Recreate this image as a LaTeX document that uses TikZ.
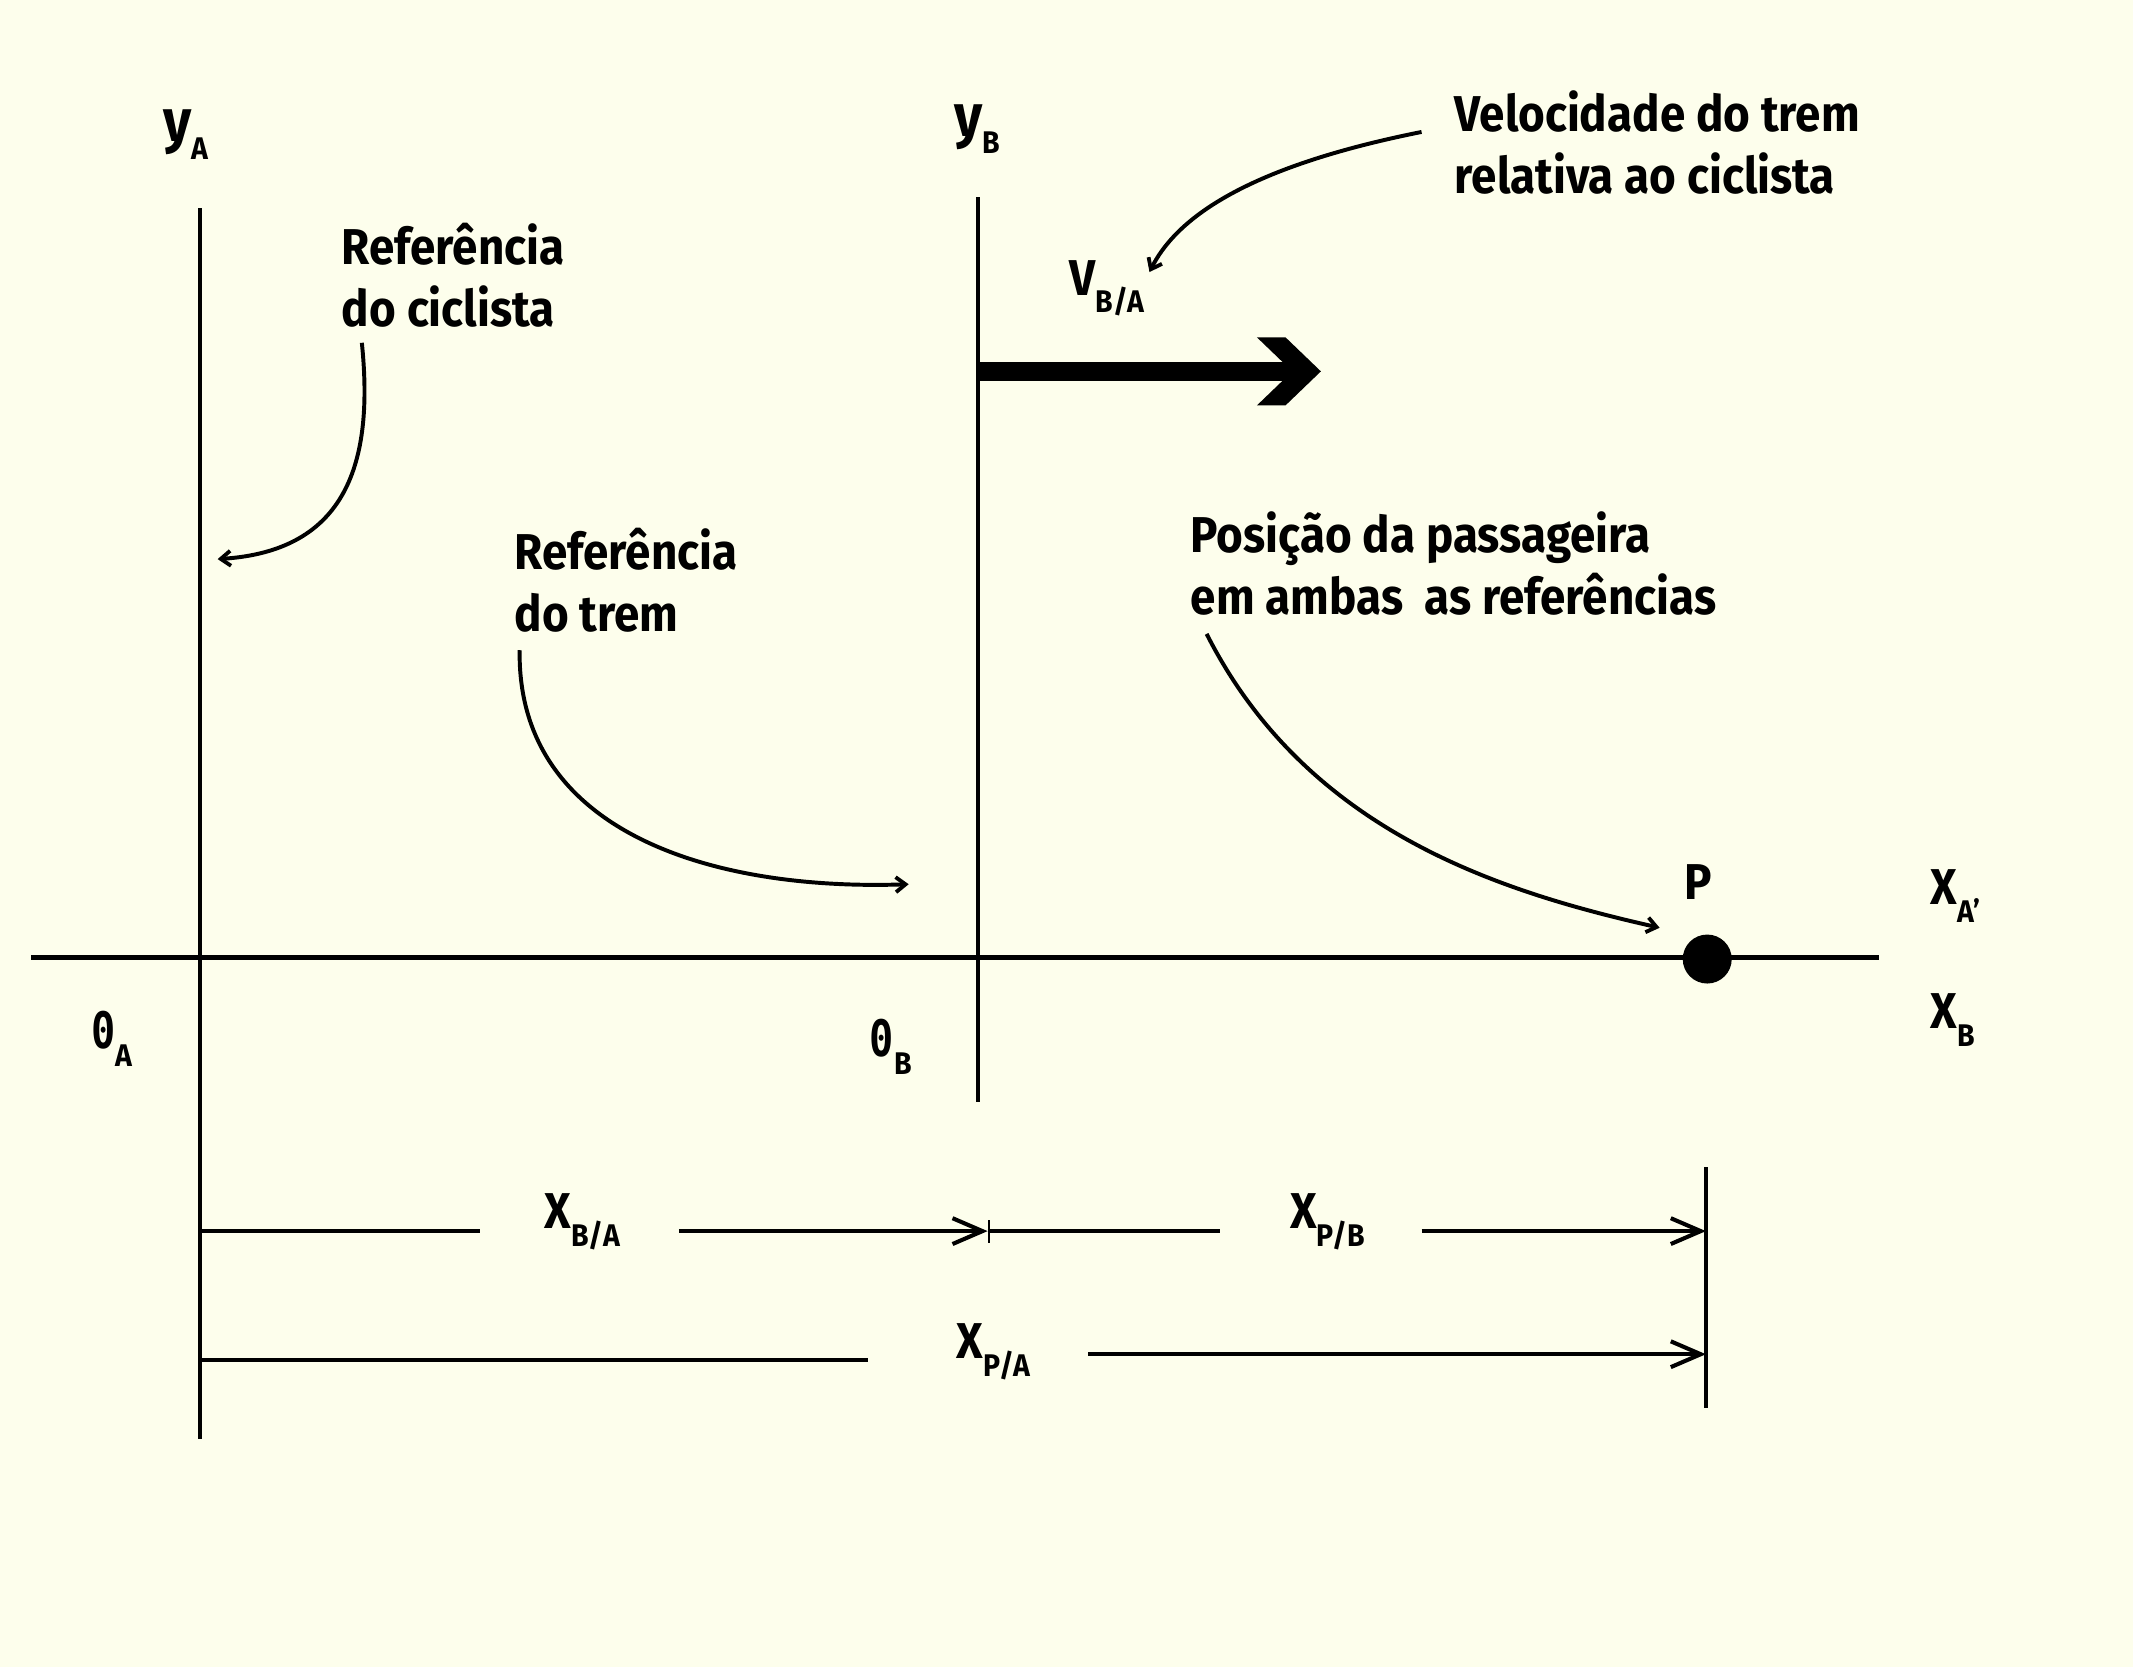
\documentclass[tikz,border=0pt]{standalone}
\usepackage{fontspec}
\setmainfont{Fira Sans}[FakeStretch=0.91]
\newfontfamily\zerofont{DejaVu Sans Mono}[FakeStretch=0.8]
\usetikzlibrary{arrows.meta}
\definecolor{bg}{RGB}{253,254,236}
\newcommand\sbs[1]{\raisebox{-6.5pt}{\fontsize{11.5}{11.5}\selectfont #1}}
\begin{document}
\begin{tikzpicture}[x=0.5pt,y=-0.5pt,
  font=\fontsize{18.5}{22.8}\selectfont\bfseries,
  txt/.style={anchor=base west,inner sep=0pt,align=left},
  lbl/.style={anchor=base west,inner sep=0pt},
  axis/.style={line width=1.45pt},
  dim/.style={line width=1.5pt},
  dimarrow/.style={dim,-{Straight Barb[length=11pt,width=9.5pt,line width=1.5pt]}},
  callout/.style={line width=1.45pt,-{Straight Barb[length=3.6pt,width=5.5pt,line width=1.4pt]}}]
\fill[bg] (0,0) rectangle (1568,1225.4);
\useasboundingbox (0,0) rectangle (1568,1225.4);
% axes
\coordinate (yAtop) at (147,153);
\coordinate (yAbot) at (147,1058);
\coordinate (yBtop) at (719,145);
\coordinate (yBbot) at (719,810);
\coordinate (xl) at (23,704);
\coordinate (xr) at (1381,704);
\draw[axis] (yAtop) -- (yAbot);
\draw[axis] (yBtop) -- (yBbot);
\draw[line width=1.7pt] (xl) -- (xr);
\node[circle,fill=black,minimum size=18pt,inner sep=0pt] (P) at (1255,705) {};
% velocity arrow
\coordinate (vs) at (719,273);
\coordinate (ve) at (950,273);
\draw[line width=7.2pt] (vs) -- (ve);
\fill (924,248) -- (945,248) -- (971,273) -- (945,298) -- (924,298) -- (950,273) -- cycle;
% labels
\node[lbl] (yA) at (120,104) {{\fontsize{22}{22}\selectfont y}\sbs{A}};
\node[lbl] (yB) at (701,100) {{\fontsize{22}{22}\selectfont y}\sbs{B}};
\node[lbl] (VBA) at (786,217) {V\sbs{B/A}};
\node[lbl] (Plab) at (1238,661) {P};
\node[lbl] (XA) at (1419,665) {X\sbs{A’}};
\node[lbl] (XB) at (1419,756) {X\sbs{B}};
\node[lbl] (OA) at (67,771) {{\zerofont 0}\sbs{A}};
\node[lbl] (OB) at (639,777) {{\zerofont 0}\sbs{B}};
\node[lbl] (XBA) at (400,903) {X\sbs{B/A}};
\node[lbl] (XPB) at (948,903) {X\sbs{P/B}};
\node[lbl] (XPA) at (703,999) {X\sbs{P/A}};
% texts (base anchor = last line)
\node[txt] (refc) at (251,240) {Referência\\do ciclista};
\node[txt] (reft) at (378,464) {Referência\\do trem};
\node[txt] (vel) at (1069,142) {Velocidade do trem\\relativa ao ciclista};
\node[txt] (pos) at (875,452) {Posição da passageira\\em ambas\ \ as referências};
% callouts
\coordinate (c1s) at (266,252);
\coordinate (c1e) at (160,411);
\coordinate (c2s) at (382,478);
\coordinate (c2e) at (668,650);
\coordinate (c3s) at (1045,97);
\coordinate (c3e) at (845,200);
\coordinate (c4s) at (887,466);
\coordinate (c4e) at (1220,682);
\draw[callout] (c1s) .. controls (275,340) and (255,405) .. (c1e);
\draw[callout] (c2s) .. controls (380,610) and (520,655) .. (c2e);
\draw[callout] (c3s) .. controls (940,118) and (870,150) .. (c3e);
\draw[callout] (c4s) .. controls (960,610) and (1100,655) .. (c4e);
% dimension lines
\coordinate (d1a) at (147,905);
\coordinate (d1b) at (353,905);
\coordinate (d1c) at (499,905);
\coordinate (d1d) at (726,905);
\coordinate (d1e) at (897,905);
\coordinate (d1f) at (1045,905);
\coordinate (d1g) at (1254,905);
\coordinate (tk1) at (727,897);
\coordinate (tk2) at (727,914);
\coordinate (rvt) at (1254,858);
\coordinate (rvb) at (1254,1035);
\coordinate (d2a) at (147,999.5);
\coordinate (d2b) at (638,999.5);
\coordinate (d2c) at (800,995.5);
\coordinate (d2d) at (1254,995.5);
\draw[dim] (d1a) -- (d1b);
\draw[dimarrow] (d1c) -- (d1d);
\draw[line width=1pt] (tk1) -- (tk2);
\draw[dim] (d1d) -- (d1e);
\draw[dimarrow] (d1f) -- (d1g);
\draw[axis] (rvt) -- (rvb);
\draw[dim] (d2a) -- (d2b);
\draw[dimarrow] (d2c) -- (d2d);
\end{tikzpicture}
\end{document}
